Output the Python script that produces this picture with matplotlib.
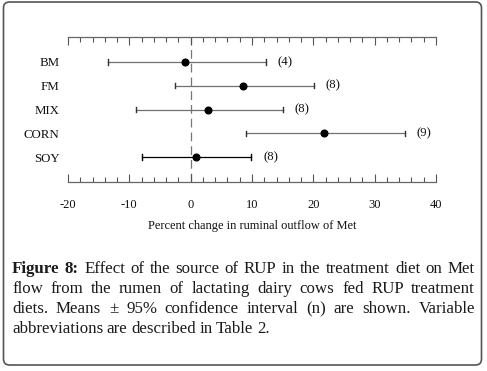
import matplotlib
matplotlib.use("Agg")
import matplotlib.pyplot as plt
from matplotlib.patches import FancyBboxPatch
from matplotlib.transforms import IdentityTransform
from matplotlib.ticker import MultipleLocator

# ---- data ----
categories = ["BM", "FM", "MIX", "CORN", "SOY"]
means = [-1.0, 8.5, 2.9, 21.8, 0.8]
lower = [-13.5, -2.6, -8.9, 9.1, -8.0]
upper = [12.3, 20.1, 15.1, 34.9, 9.9]
n_labels = ["(4)", "(8)", "(8)", "(9)", "(8)"]
bar_colors = ["#707070", "#707070", "#707070", "#707070", "#000000"]
xticks = [-20, -10, 0, 10, 20, 30, 40]
xlabel = "Percent change in ruminal outflow of Met"
caption_lines = [
    "Figure 8: Effect of the source of RUP in the treatment diet on Met",
    "flow from the rumen of lactating dairy cows fed RUP treatment",
    "diets. Means \u00b1 95% confidence interval (n) are shown. Variable",
    "abbreviations are described in Table 2.",
]

W, H = 487, 371
fig = plt.figure(figsize=(W / 100, H / 100), dpi=100)
serif = ["Liberation Serif", "DejaVu Serif"]

# frame
frame = FancyBboxPatch((3.5, 6), 478, 363, boxstyle="round,pad=0,rounding_size=6",
                       transform=IdentityTransform(), facecolor="none",
                       edgecolor="#555555", linewidth=1.2, zorder=-5)
fig.patches.append(frame)

ax_left, ax_right, ax_top, ax_bot = 68, 436, 37, 182
ax = fig.add_axes([ax_left / W, (H - ax_bot) / H, (ax_right - ax_left) / W, (ax_bot - ax_top) / H])
ax.set_facecolor("none")

ypos = [5 - i for i in range(len(categories))]
for i, cat in enumerate(categories):
    y = ypos[i]
    c = bar_colors[i]
    ax.plot([lower[i], upper[i]], [y, y], color=c, lw=0.9, zorder=3)
    for xe in (lower[i], upper[i]):
        ax.plot([xe, xe], [y - 0.11, y + 0.11], color="#000000" if i == 4 else "#303030", lw=1.0, zorder=3)
    ax.plot(means[i], y, "o", color="black", ms=4.8, zorder=4)
    ax.text(upper[i] + 1.9, y, n_labels[i], ha="left", va="center", fontsize=9.2,
            family=serif, color="#111111")

ax.axvline(0, color="#777777", lw=0.9, dashes=(7, 4), zorder=1)

ax.set_xlim(-20, 40)
ax.set_ylim(-0.05, 6.05)
ax.set_yticks(ypos)
ax.set_yticklabels(categories, family=serif, fontsize=9.3, color="#111111")
ax.tick_params(axis="y", length=0, pad=6)
for s in ("left", "right"):
    ax.spines[s].set_visible(False)
for s in ("top", "bottom"):
    ax.spines[s].set_color("#666666")
    ax.spines[s].set_linewidth(0.9)
ax.set_xticks(xticks)
ax.xaxis.set_minor_locator(MultipleLocator(2))
ax.tick_params(axis="x", which="both", direction="in", top=True, bottom=True,
               labeltop=False, color="#555555", width=0.8)
ax.tick_params(axis="x", which="major", length=6, pad=12)
ax.tick_params(axis="x", which="minor", length=3.5)
ax.set_xticklabels([str(t) for t in xticks], family=serif, fontsize=9, color="#111111")
ax.set_xlabel(xlabel, family=serif, fontsize=8.9, color="#111111", labelpad=7)

# caption with justification
renderer = fig.canvas.get_renderer()
left_px, right_px = 12, 475
baselines = [273, 293, 313, 333]
fs = 12.2
for li, line in enumerate(caption_lines):
    words = line.split(" ")
    texts = []
    widths = []
    for wi, w in enumerate(words):
        bold = (li == 0 and wi < 2)
        t = fig.text(0, 0, w, fontsize=fs, family=serif,
                     fontweight="bold" if bold else "normal",
                     color="#1a1a1a", ha="left", va="baseline",
                     transform=IdentityTransform())
        texts.append(t)
        widths.append(t.get_window_extent(renderer).width)
    total = sum(widths)
    if li < len(caption_lines) - 1 and len(words) > 1:
        gap = (right_px - left_px - total) / (len(words) - 1)
    else:
        gap = 3.5
    x = left_px
    for t, wdt in zip(texts, widths):
        t.set_position((x, H - baselines[li]))
        x += wdt + gap

fig.savefig("out.png", dpi=100)
